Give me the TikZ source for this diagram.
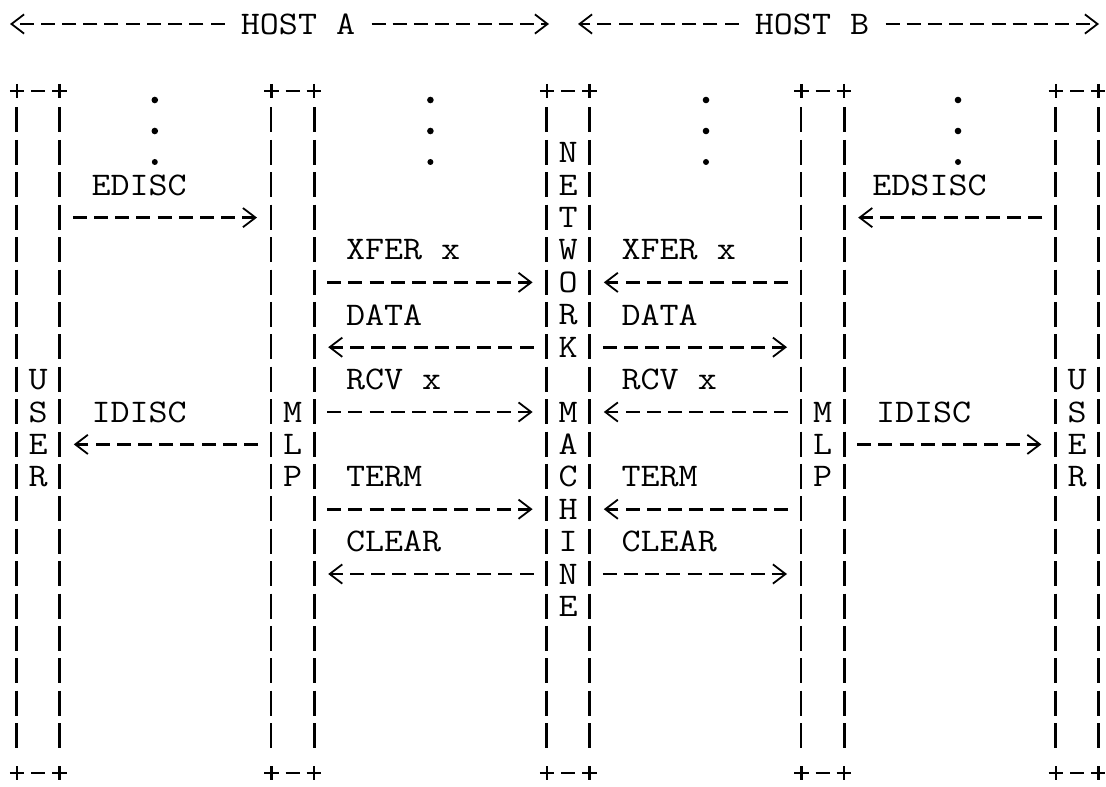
\documentclass[tikz,border=0pt]{standalone}
\usetikzlibrary{arrows.meta}
\newcommand{\tw}[1]{\scalebox{1.12}[1]{\fontsize{16.5}{16.5}\selectfont\ttfamily #1}}
\tikzset{tb/.tip={Straight Barb[length=6.3pt,width=9.6pt,line width=0.9pt]}}
\begin{document}
\begin{tikzpicture}[x=0.5pt,y=-0.5pt,
  lifebox/.style={inner sep=0pt,minimum width=21.2pt,minimum height=320.3pt},
  vbar/.style={line width=1.4pt,dash pattern=on 12.5pt off 3.7pt},
  harr/.style={line width=1.3pt,dash pattern=on 7pt off 3.6pt,-tb,shorten <=6.5pt,shorten >=7pt},
  hdr/.style={line width=1.3pt,dash pattern=on 7pt off 3.6pt,-tb},
  capline/.style={line width=1.3pt},
  lbl/.style={inner sep=0pt,anchor=west},
  ltr/.style={inner sep=0pt},
  hlab/.style={inner xsep=8pt,inner ysep=0pt},
  pics/capbar/.style={code={
    \draw[capline] (-28.4,0) -- (-14,0) (-21.2,-7) -- (-21.2,7)
                   (14,0) -- (28.4,0) (21.2,-7) -- (21.2,7)
                   (-7,0) -- (7,0);
  }}
]
\useasboundingbox (0,0) rectangle (1106,786);
\foreach \i in {0,...,21} {\coordinate (r\i) at (0,{88+32.4*\i});}
\coordinate (capT) at (0,91);
\coordinate (capB) at (0,773);

% header
\coordinate (hAl) at (10,24);
\coordinate (hAr) at (549,24);
\coordinate (hBl) at (578,24);
\coordinate (hBr) at (1099,24);
\node[hlab] (hA) at (298,24) {\tw{HOST A}};
\node[hlab] (hB) at (812,24) {\tw{HOST B}};
\draw[hdr] (hA.west) -- (hAl);
\draw[hdr] (hA.east) -- (hAr);
\draw[hdr] (hB.west) -- (hBl);
\draw[hdr] (hB.east) -- (hBr);

% lifelines
\node[lifebox] (ua) at (38.2,428.2) {};
\node[lifebox] (ma) at (292.6,428.2) {};
\node[lifebox] (nw) at (568.2,428.2) {};
\node[lifebox] (mb) at (822.6,428.2) {};
\node[lifebox] (ub) at (1077,428.2) {};
\foreach \b in {ua,ma,nw,mb,ub} {
  \draw[vbar] (\b.north west) -- (\b.south west);
  \draw[vbar] (\b.north east) -- (\b.south east);
  \pic at (\b |- capT) {capbar};
  \pic at (\b |- capB) {capbar};
}

% letters inside lifelines
\foreach \l/\r in {U/9,S/10,E/11,R/12} {
  \node[ltr] (ua-\r) at (ua |- r\r) {\tw{\l}};
  \node[ltr] (ub-\r) at (ub |- r\r) {\tw{\l}};
}
\foreach \l/\r in {M/10,L/11,P/12} {
  \node[ltr] (ma-\r) at (ma |- r\r) {\tw{\l}};
  \node[ltr] (mb-\r) at (mb |- r\r) {\tw{\l}};
}
\foreach \l/\r in {N/2,E/3,T/4,W/5,O/6,R/7,K/8,M/10,A/11,C/12,H/13,I/14,N/15,E/16} {
  \node[ltr] (nw-\r) at (nw |- r\r) {\tw{\l}};
}

% dots
\foreach \x in {154.8,430.4,706,958} {
  \fill (\x,100) circle (3.3);
  \fill (\x,131) circle (3.3);
  \fill (\x,162) circle (3.0);
}

% messages, host A side
\draw[harr] (ua.east |- r4) -- (ma.west |- r4);
\draw[harr] (ma.east |- r6) -- (nw.west |- r6);
\draw[harr] (nw.west |- r8) -- (ma.east |- r8);
\draw[harr] (ma.east |- r10) -- (nw.west |- r10);
\draw[harr] (ma.west |- r11) -- (ua.east |- r11);
\draw[harr] (ma.east |- r13) -- (nw.west |- r13);
\draw[harr] (nw.west |- r15) -- (ma.east |- r15);
% messages, host B side
\draw[harr] (ub.west |- r4) -- (mb.east |- r4);
\draw[harr] (mb.west |- r6) -- (nw.east |- r6);
\draw[harr] (nw.east |- r8) -- (mb.west |- r8);
\draw[harr] (mb.west |- r10) -- (nw.east |- r10);
\draw[harr] (mb.east |- r11) -- (ub.west |- r11);
\draw[harr] (mb.west |- r13) -- (nw.east |- r13);
\draw[harr] (nw.east |- r15) -- (mb.west |- r15);

% labels
\node[lbl] (l1) at (91.2,185.2) {\tw{EDISC}};
\node[lbl] (l2) at (91.2,412) {\tw{IDISC}};
\node[lbl] (l3) at (345.6,250) {\tw{XFER x}};
\node[lbl] (l4) at (345.6,314.8) {\tw{DATA}};
\node[lbl] (l5) at (345.6,379.6) {\tw{RCV x}};
\node[lbl] (l6) at (345.6,476.8) {\tw{TERM}};
\node[lbl] (l7) at (345.6,541.6) {\tw{CLEAR}};
\node[lbl] (r1l) at (621.2,250) {\tw{XFER x}};
\node[lbl] (r2l) at (621.2,314.8) {\tw{DATA}};
\node[lbl] (r3l) at (621.2,379.6) {\tw{RCV x}};
\node[lbl] (r4l) at (621.2,476.8) {\tw{TERM}};
\node[lbl] (r5l) at (621.2,541.6) {\tw{CLEAR}};
\node[lbl] (r6l) at (872,185.2) {\tw{EDSISC}};
\node[lbl] (r7l) at (875.6,412) {\tw{IDISC}};
\end{tikzpicture}
\end{document}
